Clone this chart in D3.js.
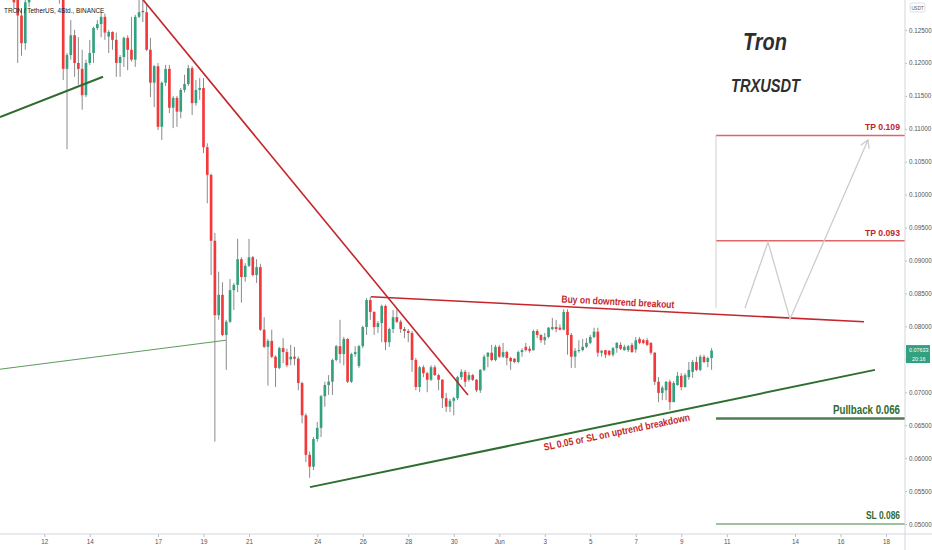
<!DOCTYPE html>
<html>
<head>
<meta charset="utf-8">
<script src="https://cdn.jsdelivr.net/npm/d3@7"></script>
<style>
  body { margin: 0; background: #fff; }
  svg { display: block; font-family: "Liberation Sans", Arial, sans-serif; }
</style>
</head>
<body>
<svg></svg>
<script>
// TRX/USDT 4h candles
let firstCandle = "2021-05-10T04:00:00Z";
let candleHours = 4;

let opens = [
  .1330, .1320, .1310, .1305, .1296, .1272, .1230, .1292, .1310, .1328,
  .1320, .1312, .1325, .1338, .1326, .1308, .1296, .1191, .1212, .1242,
  .1200, .1191, .1151, .1200, .1215, .1253, .1259, .1270, .1240, .1247,
  .1235, .1200, .1209, .1238, .1220, .1205, .1270, .1279, .1277, .1220,
  .1170, .1195, .1103, .1170, .1191, .1132, .1147, .1126, .1159, .1168,
  .1192, .1139, .1159, .1162, .1072, .1030, .0930, .0817, .0848, .0787,
  .0807, .0855, .0863, .0902, .0875, .0892, .0905, .0878, .0890, .0795,
  .0769, .0778, .0754, .0737, .0767, .0761, .0750, .0754, .0751, .0714,
  .0665, .0605, .0587, .0629, .0646, .0694, .0711, .0716, .0749, .0770,
  .0758, .0781, .0716, .0758, .0740, .0770, .0799, .0840, .0822, .0799,
  .0805, .0831, .0776, .0796, .0814, .0807, .0796, .0793, .0790, .0749,
  .0708, .0738, .0729, .0719, .0738, .0726, .0719, .0691, .0678, .0687,
  .0691, .0723, .0731, .0719, .0726, .0719, .0703, .0734, .0754, .0760,
  .0749, .0769, .0754, .0761, .0752, .0751, .0746, .0761, .0769, .0766,
  .0764, .0793, .0787, .0779, .0784, .0796, .0799, .0798, .0795, .0822,
  .0787, .0754, .0763, .0764, .0769, .0775, .0784, .0792, .0760, .0764,
  .0763, .0757, .0767, .0772, .0764, .0764, .0772, .0765, .0781, .0779,
  .0779, .0775, .0760, .0716, .0699, .0703, .0716, .0685, .0711, .0725,
  .0708, .0723, .0731, .0746, .0734, .0754, .0746, .0752
];
let highs = [
  .1345, .1335, .1328, .1318, .1300, .1283, .1300, .1318, .1335, .1342,
  .1332, .1330, .1345, .1350, .1335, .1320, .1300, .1215, .1265, .1250,
  .1239, .1220, .1205, .1235, .1255, .1265, .1277, .1275, .1250, .1248,
  .1246, .1212, .1240, .1242, .1270, .1273, .1296, .1300, .1290, .1238,
  .1197, .1200, .1172, .1197, .1197, .1150, .1150, .1162, .1182, .1197,
  .1195, .1174, .1177, .1177, .1078, .1032, .0942, .0883, .0867, .0810,
  .0872, .0866, .0933, .0905, .0896, .0933, .0907, .0902, .0895, .0814,
  .0781, .0795, .0756, .0769, .0782, .0766, .0772, .0769, .0754, .0716,
  .0668, .0610, .0632, .0655, .0696, .0716, .0726, .0751, .0772, .0810,
  .0784, .0782, .0760, .0770, .0772, .0801, .0843, .0845, .0823, .0808,
  .0833, .0833, .0798, .0825, .0826, .0810, .0799, .0796, .0793, .0752,
  .0740, .0741, .0731, .0741, .0741, .0728, .0720, .0699, .0690, .0693,
  .0725, .0735, .0734, .0731, .0728, .0720, .0735, .0757, .0761, .0772,
  .0772, .0772, .0775, .0763, .0754, .0752, .0763, .0767, .0775, .0770,
  .0795, .0796, .0788, .0790, .0799, .0813, .0810, .0803, .0826, .0826,
  .0790, .0767, .0779, .0781, .0782, .0787, .0798, .0798, .0764, .0764,
  .0764, .0769, .0776, .0776, .0772, .0772, .0775, .0784, .0784, .0781,
  .0782, .0776, .0761, .0723, .0710, .0717, .0719, .0717, .0731, .0729,
  .0729, .0746, .0749, .0754, .0757, .0757, .0754, .0767
];
let lows = [
  .1310, .1300, .1298, .1283, .1200, .1211, .1220, .1285, .1302, .1315,
  .1306, .1303, .1318, .1320, .1302, .1290, .1174, .1069, .1205, .1179,
  .1167, .1129, .1148, .1197, .1200, .1250, .1239, .1235, .1215, .1220,
  .1179, .1179, .1194, .1189, .1202, .1194, .1268, .1262, .1218, .1148,
  .1133, .1098, .1083, .1165, .1124, .1101, .1103, .1116, .1155, .1165,
  .1121, .1135, .1144, .1063, .0987, .0878, .0625, .0810, .0785, .0734,
  .0805, .0825, .0852, .0836, .0868, .0890, .0876, .0866, .0793, .0767,
  .0710, .0752, .0708, .0735, .0744, .0738, .0741, .0741, .0703, .0653,
  .0594, .0570, .0582, .0625, .0632, .0678, .0696, .0696, .0747, .0744,
  .0741, .0714, .0714, .0754, .0737, .0767, .0787, .0810, .0787, .0790,
  .0776, .0764, .0769, .0790, .0805, .0790, .0782, .0776, .0731, .0703,
  .0700, .0723, .0700, .0717, .0725, .0703, .0676, .0670, .0670, .0665,
  .0688, .0719, .0708, .0716, .0717, .0700, .0699, .0732, .0738, .0747,
  .0747, .0752, .0752, .0741, .0734, .0744, .0744, .0754, .0762, .0760,
  .0763, .0782, .0775, .0772, .0782, .0794, .0791, .0794, .0794, .0757,
  .0737, .0737, .0760, .0762, .0767, .0773, .0782, .0754, .0754, .0752,
  .0755, .0754, .0760, .0764, .0763, .0761, .0760, .0760, .0773, .0773,
  .0770, .0757, .0711, .0685, .0688, .0688, .0673, .0685, .0710, .0703,
  .0707, .0719, .0722, .0732, .0732, .0744, .0738, .0734
];
let closes = [
  .1320, .1310, .1305, .1292, .1272, .1230, .1292, .1310, .1328, .1320,
  .1312, .1325, .1338, .1326, .1308, .1296, .1191, .1212, .1242, .1200,
  .1191, .1151, .1200, .1215, .1253, .1259, .1270, .1246, .1247, .1235,
  .1200, .1209, .1238, .1220, .1205, .1270, .1277, .1277, .1220, .1170,
  .1195, .1103, .1170, .1191, .1132, .1147, .1126, .1159, .1168, .1192,
  .1139, .1159, .1162, .1072, .1030, .0930, .0817, .0848, .0787, .0807,
  .0855, .0863, .0902, .0875, .0892, .0905, .0878, .0890, .0795, .0769,
  .0778, .0754, .0737, .0767, .0761, .0741, .0754, .0751, .0714, .0665,
  .0605, .0587, .0629, .0646, .0694, .0711, .0716, .0749, .0770, .0758,
  .0781, .0716, .0758, .0761, .0770, .0799, .0840, .0822, .0799, .0805,
  .0831, .0776, .0796, .0814, .0807, .0796, .0793, .0790, .0749, .0708,
  .0738, .0729, .0719, .0738, .0726, .0719, .0691, .0678, .0687, .0691,
  .0723, .0731, .0716, .0726, .0719, .0703, .0734, .0754, .0760, .0749,
  .0769, .0754, .0761, .0752, .0747, .0746, .0761, .0764, .0764, .0763,
  .0793, .0787, .0779, .0784, .0798, .0799, .0796, .0795, .0822, .0787,
  .0754, .0763, .0764, .0769, .0775, .0784, .0792, .0760, .0763, .0757,
  .0757, .0767, .0775, .0766, .0769, .0770, .0761, .0779, .0775, .0775,
  .0772, .0760, .0716, .0699, .0707, .0716, .0685, .0714, .0725, .0708,
  .0726, .0734, .0746, .0734, .0754, .0746, .0752, .07633
];

let priceTicks = [0.05, 0.055, 0.06, 0.065, 0.07, 0.075, 0.08, 0.085, 0.09,
  0.095, 0.1, 0.105, 0.11, 0.115, 0.12, 0.125];
let dayTicks = ["2021-05-12", "2021-05-14", "2021-05-17", "2021-05-19", "2021-05-21",
  "2021-05-24", "2021-05-26", "2021-05-28", "2021-05-30", "2021-06-01", "2021-06-03",
  "2021-06-05", "2021-06-07", "2021-06-09", "2021-06-11", "2021-06-14", "2021-06-16",
  "2021-06-18"];
let countdown = "20:16";

// drawings on the chart: [time, price]
let oldTrend = [["2021-05-10T01:20Z", 0.1118], ["2021-05-14T14:00Z", 0.1179]];
let thinTrend = [["2021-05-10T01:20Z", 0.0735], ["2021-05-19T23:40Z", 0.0779]];
let downTrend = [["2021-05-16T08:10Z", 0.1296], ["2021-05-30T15:00Z", 0.0696]];
let topLine = [["2021-05-26T08:40Z", 0.0845], ["2021-06-17T00:50Z", 0.0807]];
let upTrend = [["2021-05-23T16:20Z", 0.0556], ["2021-06-17T12:20Z", 0.0734]];
let pathOut = [["2021-06-11T19:15Z", 0.0828], ["2021-06-12T19:30Z", 0.0928],
  ["2021-06-13T18:45Z", 0.0811], ["2021-06-17T05:00Z", 0.1083]];
let levelStart = "2021-06-10T12:40Z";
let levelNames = ["TP 0.109", "TP 0.093", "Pullback 0.066", "SL 0.086"];
let levelPrices = [0.109, 0.093, 0.066, 0.05];
let boxBottom = 0.0828;

let width = 932;
let height = 550;
let plotRight = 905;
let plotBottom = 534;

let upColor = "#33a17f";
let downColor = "#f2383a";
let labelFont = "'Liberation Sans', Arial, sans-serif";

let svg = d3.select("svg");
let xScale, yScale, candles;

function drawCanvas() {
  svg.attr("width", width);
  svg.attr("height", height);
  svg.append("defs").append("clipPath").attr("id", "plot")
    .append("rect").attr("width", plotRight).attr("height", plotBottom);
}

function generateScales() {
  xScale = d3.scaleUtc()
    .domain([new Date("2021-05-10T01:19Z"), new Date("2021-06-18T20:02Z")])
    .range([0, plotRight]);
  yScale = d3.scaleLinear()
    .domain([0.05, 0.125])
    .range([524, 30]);

  let t0 = new Date(firstCandle).getTime();
  candles = closes.map((c, i) => {
    return {
      date: new Date(t0 + i * candleHours * 3600000),
      o: opens[i], h: highs[i], l: lows[i], c: c
    };
  });
}

function pt(p) {
  return [xScale(new Date(p[0])), yScale(p[1])];
}

function drawCandles() {
  let step = xScale(candles[1].date) - xScale(candles[0].date);
  let bodyW = step * 0.7;
  let g = svg.append("g").attr("clip-path", "url(#plot)");

  g.selectAll(".wick")
    .data(candles)
    .enter()
    .append("line")
    .attr("x1", (d) => xScale(d.date))
    .attr("x2", (d) => xScale(d.date))
    .attr("y1", (d) => yScale(d.h))
    .attr("y2", (d) => yScale(d.l))
    .attr("stroke", "#8a8a8a")
    .attr("stroke-width", 1);

  g.selectAll(".body")
    .data(candles)
    .enter()
    .append("rect")
    .attr("x", (d) => xScale(d.date) - bodyW / 2)
    .attr("width", bodyW)
    .attr("y", (d) => yScale(Math.max(d.o, d.c)))
    .attr("height", (d) => Math.max(1, Math.abs(yScale(d.o) - yScale(d.c))))
    .attr("fill", (d) => (d.c >= d.o ? upColor : downColor));
}

function drawLines() {
  let g = svg.append("g").attr("clip-path", "url(#plot)");
  let line = d3.line().x((p) => pt(p)[0]).y((p) => pt(p)[1]);

  g.append("path").attr("d", line(thinTrend))
    .attr("stroke", "#5c9a5c").attr("stroke-width", 1).attr("fill", "none");
  g.append("path").attr("d", line(oldTrend))
    .attr("stroke", "#2f6b2f").attr("stroke-width", 2).attr("fill", "none");
  g.append("path").attr("d", line(downTrend))
    .attr("stroke", "#c4262b").attr("stroke-width", 1.6).attr("fill", "none");
  g.append("path").attr("d", line(topLine))
    .attr("stroke", "#c4262b").attr("stroke-width", 1.6).attr("fill", "none");
  g.append("path").attr("d", line(upTrend))
    .attr("stroke", "#2e6e30").attr("stroke-width", 2).attr("fill", "none");

  // target / stop levels
  let x0 = xScale(new Date(levelStart));
  let levelColor = ["#e06666", "#e06666", "#4f7f4f", "#7fae7f"];
  let levelWidth = [1.5, 1.5, 2.5, 1.5];
  levelPrices.forEach((p, i) => {
    g.append("line")
      .attr("x1", x0).attr("x2", plotRight)
      .attr("y1", yScale(p)).attr("y2", yScale(p))
      .attr("stroke", levelColor[i]).attr("stroke-width", levelWidth[i]);
  });
  g.append("line")
    .attr("x1", x0).attr("x2", x0)
    .attr("y1", yScale(levelPrices[0])).attr("y2", yScale(boxBottom))
    .attr("stroke", "#cfcfcf").attr("stroke-width", 1);

  // projected path with arrow
  g.append("path").attr("d", line(pathOut))
    .attr("stroke", "#cccccc").attr("stroke-width", 1.3).attr("fill", "none");
  let a = pt(pathOut[2]);
  let b = pt(pathOut[3]);
  let ang = Math.atan2(b[1] - a[1], b[0] - a[0]);
  let head = [ang + 2.6, ang - 2.6].map((t) => [b[0] + 9 * Math.cos(t), b[1] + 9 * Math.sin(t)]);
  g.append("path")
    .attr("d", "M" + head[0] + "L" + b + "L" + head[1])
    .attr("stroke", "#cccccc").attr("stroke-width", 1.3).attr("fill", "none");
}

function lineLabel(seg, frac, offset, text, len) {
  let a = pt(seg[0]);
  let b = pt(seg[1]);
  let ang = Math.atan2(b[1] - a[1], b[0] - a[0]);
  let px = a[0] + (b[0] - a[0]) * frac;
  let py = a[1] + (b[1] - a[1]) * frac;
  svg.append("text")
    .attr("transform", "translate(" + px + "," + py + ") rotate(" + (ang * 180 / Math.PI) + ")")
    .attr("y", offset)
    .attr("text-anchor", "middle")
    .attr("font-family", labelFont)
    .attr("font-weight", "bold")
    .attr("font-size", 10.2)
    .attr("textLength", len)
    .attr("lengthAdjust", "spacingAndGlyphs")
    .attr("fill", "#c4262b")
    .text(text);
}

function drawTexts() {
  lineLabel(topLine, 0.5, -4, "Buy on downtrend breakout", 113);
  lineLabel(upTrend, 0.54, 12, "SL 0.05 or SL on uptrend breakdown", 149);

  let levelText = ["#c4262b", "#c4262b", "#2f6b2f", "#2f6b2f"];
  let levelSize = [9, 9, 12, 10.2];
  let levelLen = [35, 35, 67, 34];
  levelNames.forEach((n, i) => {
    svg.append("text")
      .attr("x", 900 - levelLen[i])
      .attr("y", yScale(levelPrices[i]) - 5)
      .attr("font-family", labelFont)
      .attr("font-weight", "bold")
      .attr("font-size", levelSize[i])
      .attr("textLength", levelLen[i])
      .attr("lengthAdjust", "spacingAndGlyphs")
      .attr("fill", levelText[i])
      .text(n);
  });

  svg.append("text")
    .attr("x", 743).attr("y", 50)
    .attr("font-family", labelFont)
    .attr("font-style", "italic").attr("font-weight", "bold")
    .attr("font-size", 24).attr("fill", "#2e2e2e")
    .attr("textLength", 44).attr("lengthAdjust", "spacingAndGlyphs")
    .text("Tron");
  svg.append("text")
    .attr("x", 731).attr("y", 92)
    .attr("font-family", labelFont)
    .attr("font-style", "italic").attr("font-weight", "bold")
    .attr("font-size", 18).attr("fill", "#2e2e2e")
    .attr("textLength", 69).attr("lengthAdjust", "spacingAndGlyphs")
    .text("TRXUSDT");

  svg.append("text")
    .attr("x", 4).attr("y", 13)
    .attr("font-size", 6.4).attr("fill", "#131722")
    .text("TRON / TetherUS, 4Std., BINANCE");
}

function generateAxis() {
  svg.append("rect").attr("x", plotRight).attr("y", 0)
    .attr("width", width - plotRight).attr("height", height).attr("fill", "#fff");
  svg.append("rect").attr("x", 0).attr("y", plotBottom)
    .attr("width", width).attr("height", height - plotBottom).attr("fill", "#fff");

  let last = candles[candles.length - 1];
  let ly = yScale(last.c);

  let yAxis = d3.axisRight(yScale)
    .tickValues(priceTicks)
    .tickFormat(d3.format(".5f"))
    .tickSize(2)
    .tickPadding(2);
  let ya = svg.append("g")
    .attr("id", "y-axis")
    .attr("transform", "translate(" + plotRight + ",0)")
    .call(yAxis);
  // the price tag hides the tick label underneath it
  ya.selectAll(".tick")
    .filter((d) => Math.abs(yScale(d) - ly - 3) < 13)
    .select("text").remove();

  let xAxis = d3.axisBottom(xScale)
    .tickValues(dayTicks.map((d) => new Date(d + "T00:00:00Z")))
    .tickFormat((d) => (d.getUTCDate() === 1 ? d3.utcFormat("%b")(d) : d.getUTCDate()))
    .tickSize(3)
    .tickPadding(3);
  let xa = svg.append("g")
    .attr("id", "x-axis")
    .attr("transform", "translate(0," + plotBottom + ")")
    .call(xAxis);

  [ya, xa].forEach((a) => {
    a.select(".domain").remove();
    a.selectAll("line").attr("stroke", "#b8bcc4");
    a.selectAll("text").attr("fill", "#555").attr("font-size", 6.3)
      .attr("font-family", labelFont);
  });

  svg.append("line")
    .attr("x1", plotRight).attr("x2", plotRight).attr("y1", 0).attr("y2", height)
    .attr("stroke", "#d3d6dc");
  svg.append("line")
    .attr("x1", 0).attr("x2", width).attr("y1", plotBottom).attr("y2", plotBottom)
    .attr("stroke", "#d3d6dc");

  // currency box
  svg.append("rect").attr("x", 910).attr("y", 3).attr("width", 15).attr("height", 9)
    .attr("rx", 2).attr("fill", "#fff").attr("stroke", "#dcdfe4");
  svg.append("text").attr("x", 917.5).attr("y", 9.6).attr("text-anchor", "middle")
    .attr("font-size", 4.5).attr("fill", "#555").text("USDT");

  // last price tag
  svg.append("rect").attr("x", 906).attr("y", ly - 5.5).attr("width", 24).attr("height", 18)
    .attr("fill", upColor);
  svg.append("text").attr("x", 909).attr("y", ly + 1.5)
    .attr("font-size", 5.4).attr("fill", "#fff").text(d3.format(".5f")(last.c));
  svg.append("text").attr("x", 912).attr("y", ly + 10)
    .attr("font-size", 5.4).attr("fill", "#fff").text(countdown);
}

drawCanvas();
generateScales();
drawCandles();
drawLines();
drawTexts();
generateAxis();
</script>
</body>
</html>
